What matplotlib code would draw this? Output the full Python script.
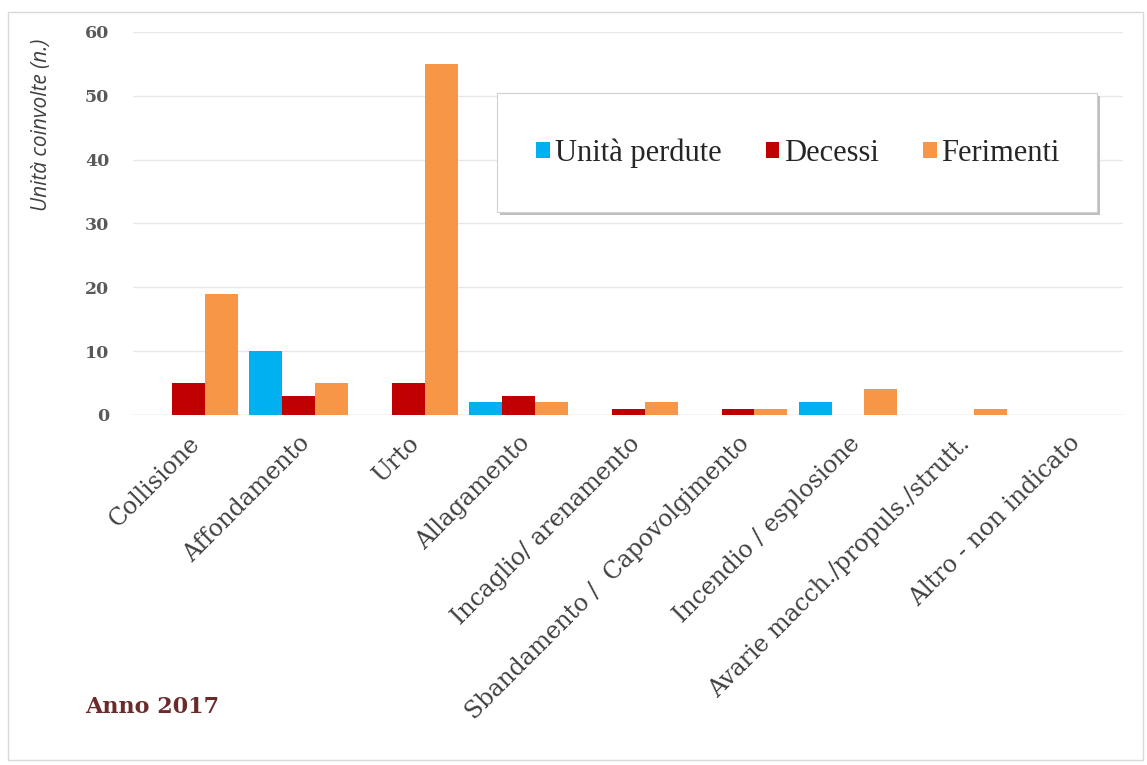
import numpy as np
import matplotlib.pyplot as plt
from matplotlib.patches import Rectangle

categorie = ['Collisione', 'Affondamento', 'Urto', 'Allagamento',
             'Incaglio/ arenamento', 'Sbandamento /  Capovolgimento',
             'Incendio / esplosione', 'Avarie macch./propuls./strutt.',
             'Altro - non indicato']
unita_perdute = [0, 10, 0, 2, 0, 0, 2, 0, 0]
decessi = [5, 3, 5, 3, 1, 1, 0, 0, 0]
ferimenti = [19, 5, 55, 2, 2, 1, 4, 1, 0]

serie = [('Unità perdute', unita_perdute, '#00b0f0'),
         ('Decessi', decessi, '#c00000'),
         ('Ferimenti', ferimenti, '#f79646')]

fig = plt.figure(figsize=(11.47, 7.65), dpi=100)
W, H = 1147, 765

# outer frame of the chart area
fig.patches.append(Rectangle((8 / W, 1 - 760 / H), 1135 / W, 748 / H,
                             transform=fig.transFigure, fill=False,
                             edgecolor='#d9d9d9', linewidth=1.0))

ax = fig.add_axes([133 / W, 1 - 415 / H, 990 / W, 383 / H])
x = np.arange(len(categorie))
w = 0.3
for i, (nome, valori, colore) in enumerate(serie):
    ax.bar(x + (i - 1) * w, valori, width=w, color=colore, label=nome,
           zorder=3)

ax.set_xlim(-0.5, len(categorie) - 0.5)
ax.set_ylim(0, 60)
ax.set_yticks(range(0, 61, 10))
ax.yaxis.grid(True, color='#e8e8e8', linewidth=1.0, zorder=0)
for s in ax.spines.values():
    s.set_visible(False)
ax.axhline(0, color='#d9d9d9', linewidth=1.0, zorder=2)
ax.tick_params(axis='both', length=0)
ax.tick_params(axis='y', pad=17)
for t in ax.get_yticklabels():
    t.set_fontfamily('DejaVu Serif')
    t.set_fontweight('bold')
    t.set_fontsize(12.5)
    t.set_color('#595959')

ax.set_xticks(x)
ax.set_xticklabels(categorie, rotation=45, ha='right', rotation_mode='anchor',
                   fontfamily='DejaVu Serif', fontsize=17, color='#404040')
ax.tick_params(axis='x', pad=12)

fig.text(42 / W, 1 - 125 / H, 'Unità coinvolte (n.)', rotation=90,
         ha='center', va='center', fontsize=15, style='italic',
         fontfamily='Open Sans', color='#404040')

# legend box with a soft shadow
fig.patches.append(Rectangle((500 / W, 1 - 215 / H), 600 / W, 119 / H,
                             transform=fig.transFigure, facecolor='#bfbfbf',
                             edgecolor='none', zorder=4))
fig.patches.append(Rectangle((497 / W, 1 - 212 / H), 600 / W, 119 / H,
                             transform=fig.transFigure, facecolor='white',
                             edgecolor='#d0d0d0', linewidth=0.8, zorder=5))
leg = fig.legend(loc='center', bbox_to_anchor=(798 / W, 1 - 153 / H),
                 ncol=3, frameon=False, handlelength=0.45, handleheight=0.45,
                 handletextpad=0.15, columnspacing=1.45,
                 prop={'family': 'Liberation Serif', 'size': 22})
leg.set_zorder(6)
for t in leg.get_texts():
    t.set_color('#262626')

fig.text(85 / W, 1 - 707 / H, 'Anno 2017', fontfamily='DejaVu Serif',
         fontweight='bold', fontsize=16, color='#6b2b2b', va='center')

fig.savefig('out.png', dpi=100)
